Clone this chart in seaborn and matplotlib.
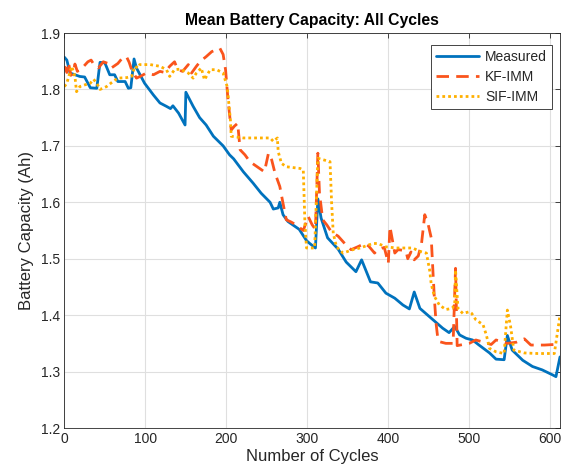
import numpy as np
import pandas as pd
import matplotlib
matplotlib.use("Agg")
import matplotlib.pyplot as plt
import seaborn as sns

# Measured mean capacity
measured_cycles = [0, 3, 7, 19, 25, 32, 40, 44, 50, 56, 62, 66, 75, 79, 82, 86, 89, 99, 110, 118,
                   126, 131, 134, 141, 149, 150, 159, 167, 175, 184, 196, 204, 209, 221, 233, 243,
                   254, 258, 264, 266, 270, 276, 282, 290, 299, 303, 310, 313, 317, 325, 338, 348,
                   360, 367, 378, 387, 397, 408, 418, 426, 432, 439, 455, 467, 475, 482, 488, 496,
                   504, 512, 525, 533, 543, 547, 553, 566, 578, 590, 603, 607, 612]
measured_cap = [1.857, 1.852, 1.829, 1.823, 1.822, 1.803, 1.802, 1.848, 1.847, 1.826, 1.826, 1.814,
                1.814, 1.802, 1.803, 1.854, 1.838, 1.811, 1.790, 1.776, 1.770, 1.766, 1.771, 1.758,
                1.737, 1.795, 1.770, 1.750, 1.737, 1.717, 1.700, 1.684, 1.677, 1.654, 1.634, 1.616,
                1.600, 1.588, 1.590, 1.600, 1.578, 1.566, 1.560, 1.552, 1.532, 1.527, 1.519, 1.606,
                1.572, 1.537, 1.517, 1.494, 1.477, 1.498, 1.459, 1.457, 1.439, 1.430, 1.418, 1.411,
                1.441, 1.412, 1.392, 1.377, 1.369, 1.380, 1.365, 1.359, 1.356, 1.347, 1.333, 1.322,
                1.321, 1.364, 1.338, 1.320, 1.309, 1.303, 1.294, 1.291, 1.326]

# KF-IMM estimate
kf_cycles = [0, 3, 5, 8, 11, 13, 16, 22, 29, 33, 36, 42, 48, 54, 58, 66, 73, 77, 80, 83, 89, 95,
             101, 110, 118, 124, 130, 136, 140, 146, 153, 157, 163, 168, 175, 182, 192, 196, 199,
             202, 206, 210, 214, 217, 223, 229, 241, 247, 252, 256, 260, 266, 270, 274, 280, 286,
             295, 301, 306, 310, 313, 315, 319, 324, 330, 338, 348, 354, 362, 371, 376, 383, 387,
             395, 400, 402, 408, 412, 418, 422, 424, 428, 432, 437, 441, 445, 449, 453, 455, 457,
             459, 461, 463, 471, 480, 483, 485, 500, 508, 518, 527, 533, 547, 558, 568, 576, 593,
             605, 612]
kf_cap = [1.841, 1.830, 1.848, 1.825, 1.829, 1.845, 1.832, 1.838, 1.849, 1.852, 1.845, 1.838,
          1.849, 1.846, 1.838, 1.846, 1.858, 1.857, 1.848, 1.835, 1.820, 1.824, 1.829, 1.826,
          1.832, 1.830, 1.841, 1.849, 1.835, 1.832, 1.844, 1.829, 1.841, 1.850, 1.858, 1.867,
          1.873, 1.862, 1.835, 1.782, 1.728, 1.735, 1.740, 1.693, 1.684, 1.672, 1.660, 1.654,
          1.687, 1.675, 1.652, 1.628, 1.598, 1.569, 1.565, 1.560, 1.550, 1.575, 1.560, 1.552,
          1.687, 1.616, 1.569, 1.560, 1.547, 1.540, 1.524, 1.516, 1.521, 1.527, 1.522, 1.510,
          1.516, 1.520, 1.492, 1.557, 1.510, 1.516, 1.515, 1.512, 1.500, 1.512, 1.498, 1.505,
          1.527, 1.578, 1.562, 1.537, 1.480, 1.427, 1.385, 1.360, 1.353, 1.350, 1.350, 1.483,
          1.346, 1.350, 1.356, 1.352, 1.348, 1.356, 1.350, 1.352, 1.358, 1.347, 1.347, 1.348,
          1.347]

# SIF-IMM estimate
sif_cycles = [0, 3, 9, 13, 15, 19, 25, 32, 36, 40, 44, 52, 60, 66, 77, 83, 87, 91, 93, 106, 118,
              126, 130, 136, 143, 153, 159, 163, 169, 173, 180, 188, 196, 201, 203, 205, 206, 221,
              254, 258, 263, 264, 268, 274, 291, 295, 297, 299, 309, 313, 328, 330, 332, 336, 344,
              356, 365, 377, 381, 387, 397, 410, 430, 439, 447, 451, 453, 457, 463, 471, 479, 482,
              483, 486, 492, 500, 503, 508, 512, 517, 521, 525, 533, 543, 547, 551, 555, 568, 584,
              605, 612]
sif_cap = [1.805, 1.811, 1.841, 1.823, 1.796, 1.805, 1.808, 1.811, 1.818, 1.811, 1.800, 1.805,
           1.814, 1.820, 1.821, 1.823, 1.841, 1.838, 1.844, 1.844, 1.841, 1.835, 1.823, 1.835,
           1.836, 1.829, 1.820, 1.829, 1.838, 1.817, 1.835, 1.835, 1.829, 1.805, 1.776, 1.746,
           1.717, 1.714, 1.714, 1.708, 1.714, 1.690, 1.669, 1.663, 1.660, 1.657, 1.563, 1.519,
           1.519, 1.678, 1.672, 1.598, 1.545, 1.521, 1.510, 1.516, 1.519, 1.525, 1.527, 1.527,
           1.521, 1.519, 1.519, 1.513, 1.510, 1.480, 1.455, 1.433, 1.418, 1.410, 1.412, 1.421,
           1.480, 1.412, 1.403, 1.406, 1.403, 1.392, 1.388, 1.383, 1.365, 1.341, 1.335, 1.332,
           1.409, 1.380, 1.338, 1.333, 1.332, 1.332, 1.400]

x_ticks = [0, 100, 200, 300, 400, 500, 600]
y_ticks = [1.2, 1.3, 1.4, 1.5, 1.6, 1.7, 1.8, 1.9]

sns.set_style("white")
plt.rcParams["font.family"] = ["Liberation Sans", "DejaVu Sans"]

ink = "#262626"
fig = plt.figure(figsize=(5.61, 4.75), dpi=100)
ax = fig.add_axes([64.4 / 561, 47 / 475, (560 - 64.4) / 561, 395 / 475])

series = [
    (measured_cycles, measured_cap, "Measured", "#0072BD", None),
    (kf_cycles, kf_cap, "KF-IMM", "#FA541C", (4.5, 2.6)),
    (sif_cycles, sif_cap, "SIF-IMM", "#FFB000", (1.0, 1.1)),
]
for xs, ys, name, color, dash in series:
    df = pd.DataFrame({"cycle": xs, "cap": ys})
    sns.lineplot(data=df, x="cycle", y="cap", ax=ax, color=color,
                 linewidth=2.0, label=name, estimator=None, sort=False)
    line = ax.lines[-1]
    if dash is not None:
        line.set_dashes(dash)
        line.set_dash_capstyle("butt")

ax.set_xlim(0, 612)
ax.set_ylim(1.2, 1.9)
ax.set_xticks(x_ticks)
ax.set_yticks(y_ticks)
ax.set_yticklabels([f"{v:.1f}" for v in y_ticks])
ax.grid(True, color="#DFDFDF", linewidth=0.8)
ax.set_axisbelow(True)
ax.tick_params(direction="in", length=3.5, width=0.6, colors=ink, labelsize=10,
               top=True, right=True, pad=3)
for sp in ax.spines.values():
    sp.set_color(ink)
    sp.set_linewidth(0.6)

ax.set_xlabel("Number of Cycles", fontsize=12, color=ink, labelpad=2)
ax.set_ylabel("Battery Capacity (Ah)", fontsize=12, color=ink, labelpad=5)
ax.set_title("Mean Battery Capacity: All Cycles", fontsize=11.3, fontweight="bold",
             color="black", pad=6)

leg = ax.legend(loc="upper right", bbox_to_anchor=((551.7 - 64.4) / 495.6, (428 - 45) / 395),
                borderaxespad=0, fontsize=10, handlelength=3.1, handletextpad=0.4,
                labelspacing=0.45, borderpad=0.35, fancybox=False, framealpha=1,
                edgecolor=ink)
leg.get_frame().set_linewidth(0.6)

fig.savefig("out.png", dpi=100)
